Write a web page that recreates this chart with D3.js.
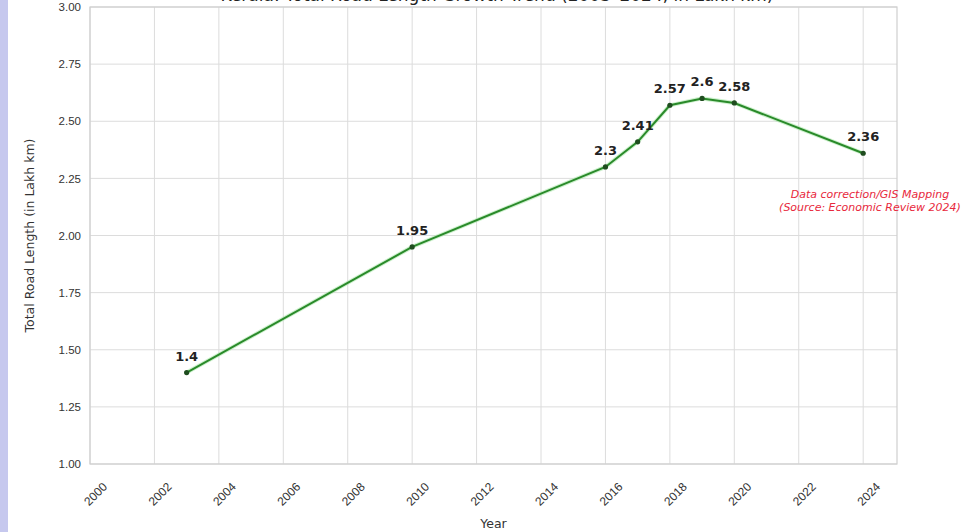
<!DOCTYPE html>
<html>
<head>
<meta charset="utf-8">
<script src="https://cdn.jsdelivr.net/npm/d3@7"></script>
<style>
  body { margin: 0; background: #fff; }
  svg { display: block; font-family: "DejaVu Sans", sans-serif; }
</style>
</head>
<body>
<svg id="chart" width="973" height="532"></svg>
<script>
const years = [2003, 2010, 2016, 2017, 2018, 2019, 2020, 2024];
const roadLength = [1.4, 1.95, 2.3, 2.41, 2.57, 2.6, 2.58, 2.36];
const xTicks = d3.range(2000, 2025, 2);
const yTicks = [1.00, 1.25, 1.50, 1.75, 2.00, 2.25, 2.50, 2.75, 3.00];
const noteLines = ["Data correction/GIS Mapping", "(Source: Economic Review 2024)"];

const width = 973, height = 532;
const margin = { top: 7, left: 90, right: 76, bottom: 68 };
const svg = d3.select('#chart');

// left lavender strip
svg.append('rect').attr('x', 0).attr('y', 0).attr('width', 8).attr('height', height).attr('fill', '#c6c8ee');

const xScale = d3.scaleLinear().domain([2000, 2025.05]).range([margin.left, width - margin.right]);
const yScale = d3.scaleLinear().domain([1, 3]).range([height - margin.bottom, margin.top]);

// grid
svg.append('g').selectAll('line').data(xTicks).enter().append('line')
    .attr('x1', d => xScale(d)).attr('x2', d => xScale(d))
    .attr('y1', yScale(1)).attr('y2', yScale(3))
    .attr('stroke', '#dcdcdc').attr('stroke-width', 1);
svg.append('g').selectAll('line').data(yTicks).enter().append('line')
    .attr('x1', xScale.range()[0]).attr('x2', xScale.range()[1])
    .attr('y1', d => yScale(d)).attr('y2', d => yScale(d))
    .attr('stroke', '#dcdcdc').attr('stroke-width', 1);

// frame
svg.append('rect')
    .attr('x', xScale.range()[0]).attr('y', yScale(3))
    .attr('width', xScale.range()[1] - xScale.range()[0])
    .attr('height', yScale(1) - yScale(3))
    .attr('fill', 'none').attr('stroke', '#cfcfcf').attr('stroke-width', 1.2);

// axes
const xAxis = d3.axisBottom(xScale).tickValues(xTicks).tickFormat(d3.format('d')).tickSize(0);
const xg = svg.append('g').attr('transform', `translate(0,${yScale(1)})`).call(xAxis);
xg.select('.domain').remove();
xg.selectAll('text')
    .attr('font-size', 12).attr('fill', '#333')
    .attr('text-anchor', 'middle')
    .attr('y', 0).attr('dy', '0.35em')
    .attr('transform', 'translate(5,30) rotate(-45)');

const yAxis = d3.axisLeft(yScale).tickValues(yTicks).tickFormat(d3.format('.2f')).tickSize(0).tickPadding(9);
const yg = svg.append('g').attr('transform', `translate(${xScale.range()[0]},0)`).call(yAxis);
yg.select('.domain').remove();
yg.selectAll('text').attr('font-size', 11.5).attr('fill', '#333');

// axis labels
svg.append('text')
    .attr('x', (xScale.range()[0] + xScale.range()[1]) / 2).attr('y', 528)
    .attr('text-anchor', 'middle').attr('font-size', 12.5).attr('fill', '#333')
    .text('Year');
svg.append('text')
    .attr('transform', `translate(34,${(yScale(1) + yScale(3)) / 2}) rotate(-90)`)
    .attr('text-anchor', 'middle').attr('font-size', 12.5).attr('fill', '#333')
    .text('Total Road Length (in Lakh km)');

// title (cut off at top, as in the source picture)
svg.append('text')
    .attr('x', 497).attr('y', 1)
    .attr('text-anchor', 'middle').attr('font-size', 17).attr('fill', '#222')
    .text('Kerala: Total Road Length Growth Trend (2003–2024, in Lakh km)');

// line
const data = years.map((y, i) => ({ year: y, value: roadLength[i] }));
const line = d3.line().x(d => xScale(d.year)).y(d => yScale(d.value));
svg.append('path').datum(data)
    .attr('d', line).attr('fill', 'none')
    .attr('stroke', '#9be39b').attr('stroke-width', 4).attr('opacity', 0.5);
svg.append('path').datum(data)
    .attr('d', line).attr('fill', 'none')
    .attr('stroke', '#2a8a2a').attr('stroke-width', 2);

svg.selectAll('.pt').data(data).enter().append('circle')
    .attr('class', 'pt')
    .attr('cx', d => xScale(d.year)).attr('cy', d => yScale(d.value))
    .attr('r', 2.6).attr('fill', '#1f4d1f');

svg.selectAll('.val').data(data).enter().append('text')
    .attr('class', 'val')
    .attr('x', d => xScale(d.year)).attr('y', d => yScale(d.value) - 12)
    .attr('text-anchor', 'middle').attr('font-size', 13).attr('font-weight', 'bold')
    .attr('fill', '#222')
    .text(d => d.value);

// annotation
svg.append('text')
    .attr('x', 870).attr('y', 198)
    .attr('text-anchor', 'middle').attr('font-size', 11).attr('font-style', 'italic')
    .attr('fill', '#e8283c')
    .selectAll('tspan').data(noteLines).enter().append('tspan')
    .attr('x', 870).attr('dy', (d, i) => i === 0 ? 0 : 13)
    .text(d => d);
</script>
</body>
</html>
